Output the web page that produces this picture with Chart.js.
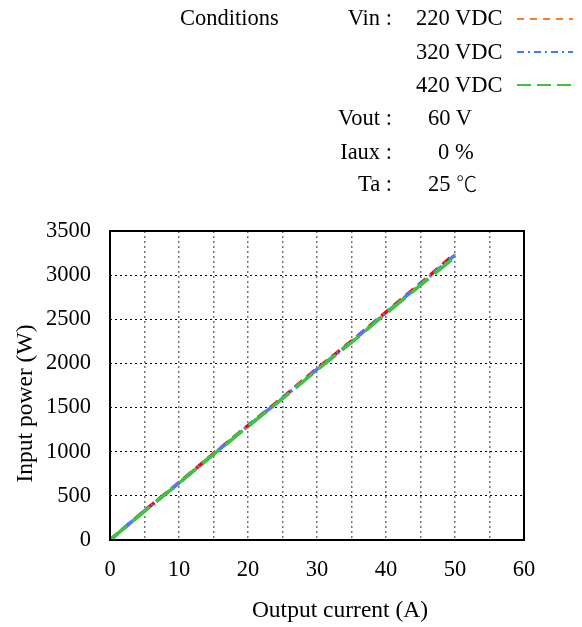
<!DOCTYPE html>
<html>
<head>
<meta charset="utf-8">
<script src="https://cdn.jsdelivr.net/npm/chart.js@4"></script>
<style>
  body { margin: 0; background: #fff; }
  #wrap { position: relative; width: 582px; height: 627px; font-family: "Liberation Serif", "Times New Roman", serif; font-size: 22.5px; color: #000; }
  #wrap canvas { position: absolute; left: 0; top: 0; }
  .t { position: absolute; line-height: 1; white-space: nowrap; transform: translateY(-50%); }
  .r { transform: translate(-100%, -50%); }
  .deg { font-family: "Noto Sans CJK JP", sans-serif; font-weight: 300; font-size: 21px; }
  svg.s { position: absolute; width: 56px; height: 6px; }
</style>
</head>
<body>
<div id="wrap">
  <canvas id="chart" width="582" height="627"></canvas>
  <div class="t" style="left:180px; top:18px;">Conditions</div>
  <div class="t r" style="left:392px; top:18px;">Vin :</div>
  <div class="t" style="left:416px; top:18px;">220 VDC</div>
  <div class="t" style="left:416px; top:52px;">320 VDC</div>
  <div class="t" style="left:416px; top:85px;">420 VDC</div>
  <div class="t r" style="left:392px; top:118px;">Vout :</div>
  <div class="t" style="left:428px; top:118px;">60 V</div>
  <div class="t r" style="left:392px; top:152px;">Iaux :</div>
  <div class="t" style="left:438px; top:152px;">0 %</div>
  <div class="t r" style="left:392px; top:184px;">Ta :</div>
  <div class="t" style="left:428px; top:184px;">25 <span class="deg">℃</span></div>
  <svg class="s" style="left:517px; top:16px;"><line x1="0" y1="3" x2="56" y2="3" stroke="#ff7f27" stroke-width="2" stroke-dasharray="7 6"/></svg>
  <svg class="s" style="left:517px; top:49px;"><line x1="0" y1="3" x2="56" y2="3" stroke="#3f7bff" stroke-width="2" stroke-dasharray="7 4 2 4"/></svg>
  <svg class="s" style="left:517px; top:82px;"><line x1="0" y1="3" x2="56" y2="3" stroke="#3ec43e" stroke-width="2" stroke-dasharray="14 6"/></svg>
</div>
<script>
// Output current (A)
const currents = [0, 5, 10, 15, 20, 25, 30, 35, 40, 45, 50];
// Input power (W) per input voltage
const power220 = [0, 332, 650, 978, 1296, 1612, 1942, 2252, 2582, 2906, 3242];
const power320 = [0, 330, 647, 974, 1292, 1606, 1934, 2245, 2574, 2896, 3228];
const power420 = [0, 326, 644, 969, 1287, 1600, 1926, 2237, 2565, 2886, 3206];

const xTicks = [0, 10, 20, 30, 40, 50, 60];
const xTitle = 'Output current (A)';
const yTitle = 'Input power (W)';

const FONT = '"Liberation Serif", "Times New Roman", serif';

function toPoints(ys) {
    return currents.map((x, i) => ({ x: x, y: ys[i] }));
}

// Frame around the plot and the two axis titles
const frameAndTitles = {
    id: 'frameAndTitles',
    afterDraw(chart) {
        const { ctx, chartArea: a } = chart;
        ctx.save();
        ctx.strokeStyle = '#000';
        ctx.lineWidth = 2;
        ctx.strokeRect(a.left, a.top, a.right - a.left, a.bottom - a.top);
        ctx.fillStyle = '#000';
        ctx.font = '23.5px ' + FONT;
        ctx.textAlign = 'center';
        ctx.textBaseline = 'middle';
        ctx.fillText(xTitle, (a.left + a.right) / 2 + 23, a.bottom + 71);
        ctx.translate(26, (a.top + a.bottom) / 2 + 18);
        ctx.rotate(-Math.PI / 2);
        ctx.fillText(yTitle, 0, 0);
        ctx.restore();
    }
};

new Chart(document.getElementById('chart'), {
    type: 'line',
    data: {
        datasets: [
            {
                label: '420 VDC',
                data: toPoints(power420),
                borderColor: '#3ec43e',
                borderWidth: 3.5,
                borderDash: [22, 8],
                order: 0
            },
            {
                label: '320 VDC',
                data: toPoints(power320),
                borderColor: '#4a7dff',
                borderWidth: 3.5,
                borderDash: [10, 4, 2, 4],
                order: 1
            },
            {
                label: '220 VDC',
                data: toPoints(power220),
                borderColor: '#ff0000',
                borderWidth: 3.5,
                borderDash: [10, 6],
                order: 2
            }
        ]
    },
    options: {
        responsive: false,
        animation: false,
        devicePixelRatio: 1,
        layout: { padding: { top: 231, right: 58, left: 0, bottom: 0 } },
        elements: { point: { radius: 0 }, line: { tension: 0 } },
        plugins: {
            legend: { display: false },
            tooltip: { enabled: false }
        },
        scales: {
            x: {
                type: 'linear',
                min: 0,
                max: 60,
                afterFit: (s) => { s.height = 87; },
                grid: { color: 'rgba(0,0,0,0.55)', lineWidth: 1.5, drawTicks: false },
                border: { display: false, dash: [2, 3] },
                ticks: {
                    stepSize: 5,
                    autoSkip: false,
                    maxRotation: 0,
                    padding: 17,
                    color: '#000',
                    font: { family: FONT, size: 22.5 },
                    callback: (v) => xTicks.includes(v) ? String(v) : ''
                }
            },
            y: {
                min: 0,
                max: 3500,
                afterFit: (s) => { s.width = 110; },
                grid: { color: '#000', lineWidth: 1, drawTicks: false },
                border: { display: false, dash: [2, 3] },
                ticks: {
                    stepSize: 500,
                    padding: 19,
                    color: '#000',
                    font: { family: FONT, size: 22.5 },
                    callback: (v) => String(v)
                }
            }
        }
    },
    plugins: [frameAndTitles]
});
</script>
</body>
</html>
